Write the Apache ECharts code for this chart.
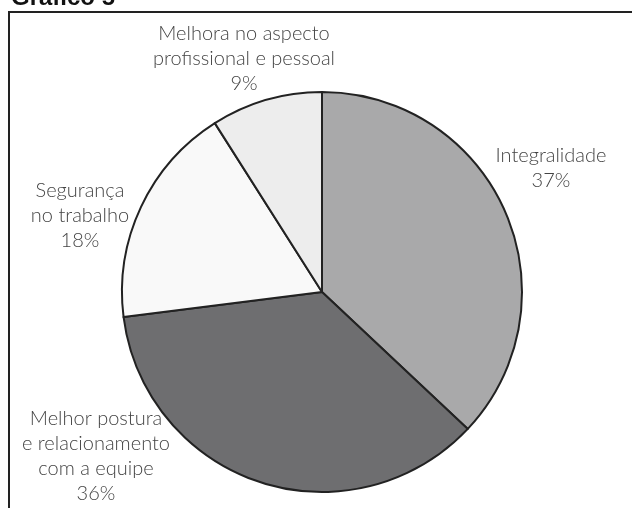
<!DOCTYPE html>
<html>
<head>
<meta charset="utf-8">
<script src="https://cdn.jsdelivr.net/npm/echarts@6/dist/echarts.min.js"></script>
<style>
  html, body { margin: 0; padding: 0; background: #fff; }
  #grafico5 { width: 632px; height: 508px; }
</style>
</head>
<body>
<div id="grafico5"></div>
<script>
// dados do gráfico
var categorias = ['Integralidade', 'Melhor postura\ne relacionamento\ncom a equipe', 'Segurança\nno trabalho', 'Melhora no aspecto\nprofissional e pessoal'];
var valores = [37, 36, 18, 9];
var cores = ['#a9a9aa', '#6e6e70', '#f9f9f9', '#ededed'];

// posição dos rótulos (centro do bloco de texto)
var posRotulos = [[551, 168], [96, 456], [80, 216], [244, 59]];

var dados = [];
for (var i = 0; i < categorias.length; i++) {
    dados.push({ name: categorias[i], value: valores[i], itemStyle: { color: cores[i] } });
}

var grafico5 = {
    backgroundColor: '#fff',
    animation: false,
    graphic: [
        {
            type: 'text',
            style: {
                x: 11, y: 10,
                text: 'Gráfico 5',
                font: 'bold 24px "Liberation Sans", Arial',
                fill: '#111',
                verticalAlign: 'bottom'
            }
        },
        {
            type: 'polyline',
            shape: { points: [[9, 520], [9, 12], [640, 12]] },
            style: { stroke: '#222', lineWidth: 2, fill: null }
        }
    ],
    series: [
        {
            name: 'Gráfico 5',
            type: 'pie',
            center: [322, 292],
            radius: 200,
            startAngle: 90,
            clockwise: true,
            data: dados,
            itemStyle: {
                borderColor: '#222',
                borderWidth: 2
            },
            label: {
                show: true,
                position: 'outside',
                formatter: '{b}\n{c}%',
                fontFamily: 'Lato, "Open Sans", sans-serif',
                fontWeight: 300,
                fontSize: 20,
                lineHeight: 25,
                color: '#444',
                align: 'center',
                overflow: 'none'
            },
            labelLine: { show: false },
            labelLayout: function (params) {
                var p = posRotulos[params.dataIndex];
                return { x: p[0], y: p[1], align: 'center', verticalAlign: 'middle' };
            },
            emphasis: { disabled: true }
        }
    ]
};

var chartOutChar_grafico5 = null;
chartOutChar_grafico5 = echarts.init(document.getElementById('grafico5'));
chartOutChar_grafico5.setOption(grafico5);
</script>
</body>
</html>
